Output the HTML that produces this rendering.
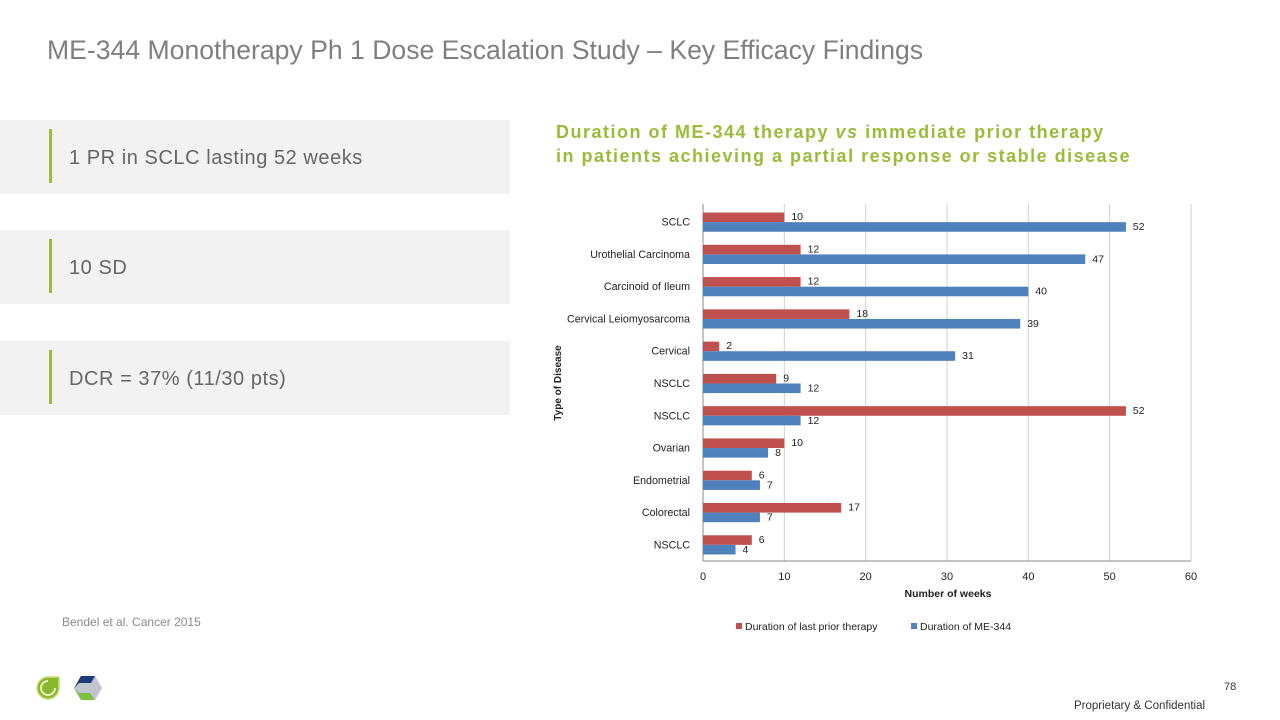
<!DOCTYPE html>
<html><head><meta charset="utf-8"><style>
body{margin:0;width:1280px;height:720px;background:#fff;font-family:"Liberation Sans",sans-serif;position:relative;overflow:hidden}
.t{position:absolute;white-space:nowrap}
.box{position:absolute;left:0;width:510px;height:74px;background:#f2f2f2}
.box .bar{position:absolute;left:49px;top:9px;width:3px;height:54px;background:#9bbb3a}
.box .tx{position:absolute;left:69px;top:27px;font-size:20px;letter-spacing:0.55px;color:#666}
</style></head><body>
<div class="t" style="left:47px;top:35px;font-size:26.6px;color:#7f7f7f">ME-344 Monotherapy Ph 1 Dose Escalation Study – Key Efficacy Findings</div>
<div class="box" style="top:120px"><div class="bar"></div><div class="tx">1 PR in SCLC lasting 52 weeks</div></div>
<div class="box" style="top:230px"><div class="bar"></div><div class="tx">10 SD</div></div>
<div class="box" style="top:341px"><div class="bar"></div><div class="tx">DCR = 37% (11/30 pts)</div></div>
<div class="t" style="left:62px;top:615px;font-size:12px;color:#888">Bendel et al. Cancer 2015</div>
<div class="t" style="left:556px;top:120px;font-size:18px;letter-spacing:1.5px;font-weight:bold;color:#9bbb3a;line-height:24px">Duration of ME-344 therapy <i>vs</i> immediate prior therapy<br>in patients achieving a partial response or stable disease</div>
<svg id="chart" width="1280" height="720" style="position:absolute;left:0;top:0" font-family="Liberation Sans, sans-serif"></svg>
<svg style="position:absolute;left:35px;top:675px" width="26" height="26"><path d="M13 2 H24 V13 A11 11 0 1 1 13 2Z" fill="#8ab92d" stroke="#c8e07a" stroke-width="1.5"/><path d="M13 6 A7 7 0 1 0 20 13" fill="none" stroke="#e8f3c0" stroke-width="2"/></svg>
<svg style="position:absolute;left:73px;top:674px" width="30" height="28"><polygon points="8,2 22,2 29,14 22,26 8,26 1,14" fill="#c0c4cc"/><polygon points="8,2 22,2 18,9 6,9 1,14" fill="#1f3a78"/><polygon points="1,14 8,26 22,26 17,19 6,19" fill="#7cc142"/></svg>
<div class="t" style="left:1224px;top:681px;font-size:11px;color:#333">78</div>
<div class="t" style="left:1074px;top:700px;font-size:11.5px;color:#333">Proprietary &amp; Confidential</div>
<script>
const categories=["SCLC","Urothelial Carcinoma","Carcinoid of Ileum","Cervical Leiomyosarcoma","Cervical","NSCLC","NSCLC","Ovarian","Endometrial","Colorectal","NSCLC"];
const priorTherapy=[10,12,12,18,2,9,52,10,6,17,6];
const me344=[52,47,40,39,31,12,12,8,7,7,4];
const xTicks=[0,10,20,30,40,50,60];
const svg=document.getElementById('chart');const NS='http://www.w3.org/2000/svg';
const X0=703,X1=1191,TOP=206,BOT=561,XMAX=60;
const x=v=>X0+(X1-X0)*v/XMAX;
const band=(BOT-TOP)/categories.length;
const y=i=>TOP+band*i;
function mk(t,a,txt){const e=document.createElementNS(NS,t);for(const k in a)e.setAttribute(k,a[k]);if(txt!==undefined)e.textContent=txt;svg.appendChild(e);return e;}
xTicks.forEach(t=>{
 const g=mk('line',{x1:x(t),x2:x(t),y1:TOP-2,y2:BOT,stroke:t===0?'#888':'#d0d0d0','stroke-width':1});
 
 
 const l=mk('text',{x:x(t),y:BOT+19,'font-size':11,fill:'#222','text-anchor':'middle'},t);
 
 
});
const ax=mk('line',{x1:X0,x2:X1,y1:BOT,y2:BOT,stroke:'#888'});


const bh=9.6;
categories.forEach((c,i)=>{
 const cy=y(i)+band/2;
 const cl=mk('text',{x:690,y:cy+3.5,'font-size':10.7,fill:'#222','text-anchor':'end'},c);
 
 
 const r=mk('rect',{x:X0,y:cy-bh,width:x(priorTherapy[i])-X0,height:bh,fill:'#c0504d'});
 
 
 const rl=mk('text',{x:x(priorTherapy[i])+7,y:cy-2,'font-size':10.5,fill:'#222'},priorTherapy[i]);
 
 
 const b=mk('rect',{x:X0,y:cy,width:x(me344[i])-X0,height:bh,fill:'#4f81bd'});
 
 
 const bl=mk('text',{x:x(me344[i])+7,y:cy+8,'font-size':10.5,fill:'#222'},me344[i]);
 
 
});
const yt=mk('text',{x:0,y:0,'font-size':10,'font-weight':'bold',fill:'#222','text-anchor':'middle',transform:'translate(561,383) rotate(-90)'},'Type of Disease');


const xt=mk('text',{x:948,y:597,'font-size':10.5,'font-weight':'bold',fill:'#222','text-anchor':'middle'},'Number of weeks');


const l1=mk('rect',{x:736,y:623,width:6,height:6,fill:'#c0504d'});


const l1t=mk('text',{x:745,y:630,'font-size':10.5,fill:'#222'},'Duration of last prior therapy');


const l2=mk('rect',{x:911,y:623,width:6,height:6,fill:'#4f81bd'});


const l2t=mk('text',{x:920,y:630,'font-size':10.5,fill:'#222'},'Duration of ME-344');


</script>
</body></html>
